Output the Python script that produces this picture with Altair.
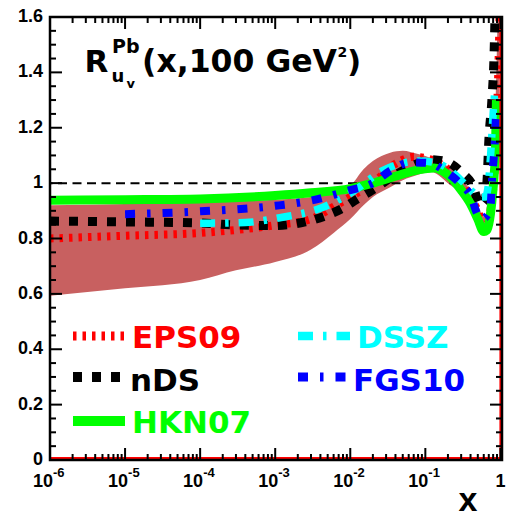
import altair as alt
import pandas as pd

# ---------------- data ----------------
band_x = [1e-6, 1e-5, 1e-4, 3e-4, 1e-3, 3e-3, 6e-3, 1e-2, 1.5e-2, 2e-2, 3.4e-2, 5e-2, 8e-2,
          0.12, 0.2, 0.3, 0.4, 0.5, 0.6, 0.68, 0.76, 0.84, 0.9, 0.94, 0.97, 0.995]
band_hi = [0.92, 0.925, 0.93, 0.935, 0.94, 0.95, 0.965, 0.99, 1.05, 1.08, 1.11, 1.117, 1.105,
           1.09, 1.06, 1.02, 0.97, 0.92, 0.88, 0.9, 1.0, 1.2, 1.5, 1.75, 2.0, 2.3]
band_lo = [0.593, 0.62, 0.65, 0.685, 0.715, 0.76, 0.82, 0.87, 0.92, 0.95, 0.985, 1.01, 1.03,
           1.04, 1.0, 0.96, 0.91, 0.86, 0.81, 0.82, 0.88, 0.95, 1.1, 1.25, 1.4, 1.6]

eps_x = [1e-6, 1e-5, 1e-4, 1e-3, 3e-3, 6e-3, 1e-2, 2e-2, 4e-2, 7e-2, 0.12, 0.2, 0.3, 0.4,
         0.5, 0.6, 0.68, 0.76, 0.84, 0.9, 0.94, 0.97, 0.995]
eps_r = [0.80, 0.81, 0.82, 0.848, 0.87, 0.915, 0.95, 1.0, 1.07, 1.095, 1.085, 1.05, 1.0, 0.95,
         0.9, 0.85, 0.86, 0.93, 1.05, 1.25, 1.42, 1.58, 1.75]

nds_x = [1e-6, 1e-5, 1e-4, 3e-4, 1e-3, 2.5e-3, 5e-3, 8e-3, 1.2e-2, 2e-2, 4e-2, 7e-2, 0.12,
         0.2, 0.3, 0.43, 0.54, 0.62, 0.67, 0.7, 0.77, 0.82, 0.85]
nds_r = [0.863, 0.86, 0.856, 0.849, 0.847, 0.86, 0.885, 0.91, 0.94, 0.976, 1.03, 1.065, 1.085,
         1.075, 1.04, 0.99, 0.92, 0.93, 1.03, 1.15, 1.3, 1.45, 1.62]

hkn_x = [1e-6, 1e-5, 1e-4, 1e-3, 3e-3, 1e-2, 2e-2, 4e-2, 0.08, 0.13, 0.2, 0.3, 0.4, 0.5,
         0.6, 0.66, 0.72, 0.78, 0.82, 0.86, 0.885]
hkn_r = [0.938, 0.94, 0.943, 0.955, 0.965, 0.98, 1.0, 1.025, 1.048, 1.055, 1.03, 0.975, 0.925,
         0.87, 0.825, 0.83, 0.87, 0.95, 1.02, 1.12, 1.30]

dssz_x = [1e-4, 4e-4, 1.2e-3, 4e-3, 1.1e-2, 2.7e-2, 8.5e-2, 0.15, 0.3, 0.4, 0.55, 0.63,
          0.68, 0.74, 0.8, 0.85]
dssz_r = [0.855, 0.858, 0.876, 0.909, 0.97, 1.045, 1.08, 1.07, 1.01, 0.975, 0.95, 0.95,
          0.98, 1.1, 1.25, 1.35]

fgs_x = [1e-5, 1e-4, 1e-3, 3e-3, 1e-2, 2e-2, 3.4e-2, 6.3e-2, 0.11, 0.19, 0.3, 0.4, 0.5,
         0.56, 0.65, 0.74, 0.78, 0.83, 0.88]
fgs_r = [0.888, 0.898, 0.918, 0.937, 0.975, 1.0, 1.045, 1.075, 1.073, 1.04, 0.995, 0.955, 0.885,
         0.87, 0.88, 0.92, 1.03, 1.12, 1.27]

names = ["EPS09", "nDS", "HKN07", "DSSZ", "FGS10"]
colors = ["#ff0000", "#000000", "#00ff00", "#00ffff", "#0000ff"]

x_major = [1e-6, 1e-5, 1e-4, 1e-3, 1e-2, 1e-1]
x_exp = ["-6", "-5", "-4", "-3", "-2", "-1"]
x_last = [1.0]
x_minor = [k * 10.0 ** d for d in range(-6, 0) for k in range(2, 10)]
y_major = [0, 0.2, 0.4, 0.6, 0.8, 1.0, 1.2, 1.4, 1.6]
y_labels = ["0", "0.2", "0.4", "0.6", "0.8", "1", "1.2", "1.4", "1.6"]
y_minor = [round(0.05 * i, 2) for i in range(33) if i % 4 != 0]
unity = [1.0]

# ---------------- chart ----------------
W, H = 452, 443
xs = alt.Scale(type="log", domain=[1e-6, 1.05], nice=False)
ys = alt.Scale(domain=[0, 1.6], nice=False, zero=False)
TF = "Liberation Sans"
LF = "DejaVu Sans"


def X(f):
    return alt.X(f, type="quantitative", scale=xs, axis=None)


def Y(f):
    return alt.Y(f, type="quantitative", scale=ys, axis=None)


def curve(xv, rv, color, width, dash=None):
    df = pd.DataFrame({"x": xv, "r": rv})
    kw = dict(color=color, strokeWidth=width, clip=True, interpolate="monotone")
    if dash:
        kw["strokeDash"] = dash
    return alt.Chart(df).mark_line(**kw).encode(x=X("x"), y=Y("r"))


one = pd.DataFrame({"a": [0]})


def label(text, x, y, size, color="black", font=LF, align="left"):
    return alt.Chart(one).mark_text(
        text=text, fontSize=size, font=font, fontWeight="bold", color=color,
        align=align, baseline="alphabetic"
    ).encode(x=alt.value(x), y=alt.value(y))


layers = []

# EPS09 uncertainty band
band_df = pd.DataFrame({"x": band_x, "lo": band_lo, "hi": band_hi})
layers.append(alt.Chart(band_df).mark_area(color="#c86060", clip=True, interpolate="monotone")
              .encode(x=X("x"), y=Y("hi"), y2="lo"))

# unity dashed line
layers.append(alt.Chart(pd.DataFrame({"v": unity})).mark_rule(
    color="black", strokeWidth=2, strokeDash=[9, 5.5]).encode(y=Y("v")))

styles = {
    "EPS09": dict(width=8, dash=[3.5, 6]),
    "nDS": dict(width=9, dash=[9, 10]),
    "HKN07": dict(width=9, dash=None),
    "DSSZ": dict(width=7.5, dash=[15, 10, 3.5, 10]),
    "FGS10": dict(width=8, dash=[10, 12, 3.5, 12]),
}
series = {
    "EPS09": (eps_x, eps_r),
    "nDS": (nds_x, nds_r),
    "HKN07": (hkn_x, hkn_r),
    "DSSZ": (dssz_x, dssz_r),
    "FGS10": (fgs_x, fgs_r),
}
for name, col in zip(names, colors):
    xv, rv = series[name]
    layers.append(curve(xv, rv, col, styles[name]["width"], styles[name]["dash"]))

# red edge lines (band edges at x=1 and the bottom)
layers.append(alt.Chart(pd.DataFrame({"v": x_last})).mark_rule(
    color="#ff0000", strokeWidth=2, clip=True).encode(x=X("v")))
layers.append(alt.Chart(one).mark_rule(color="#ff0000", strokeWidth=2).encode(
    x=alt.value(0), x2=alt.value(W), y=alt.value(H - 2)))

# ticks (inward, all four sides)
def xticks(vals, length):
    df = pd.DataFrame({"v": vals})
    base = alt.Chart(df).mark_rule(color="black", strokeWidth=2)
    return [base.encode(x=X("v"), y=alt.value(H), y2=alt.value(H - length)),
            base.encode(x=X("v"), y=alt.value(0), y2=alt.value(length))]


def yticks(vals, length):
    df = pd.DataFrame({"v": vals})
    base = alt.Chart(df).mark_rule(color="black", strokeWidth=2)
    return [base.encode(y=Y("v"), x=alt.value(0), x2=alt.value(length)),
            base.encode(y=Y("v"), x=alt.value(W), x2=alt.value(W - length))]


layers += xticks(x_major + x_last, 12) + xticks(x_minor, 6)
layers += yticks(y_major, 12) + yticks(y_minor, 6)

# frame
layers.append(alt.Chart(one).mark_rect(fillOpacity=0, stroke="black", strokeWidth=2.5).encode(
    x=alt.value(0), x2=alt.value(W), y=alt.value(0), y2=alt.value(H)))

# tick labels
xl = pd.DataFrame({"v": x_major, "e": x_exp})
layers.append(alt.Chart(xl).mark_text(text="10", align="right", dx=3, baseline="alphabetic",
                                      font=TF, fontWeight="bold", fontSize=18)
              .encode(x=X("v"), y=alt.value(470)))
layers.append(alt.Chart(xl).mark_text(align="left", dx=3, baseline="alphabetic",
                                      font=TF, fontWeight="bold", fontSize=13)
              .encode(x=X("v"), y=alt.value(460), text="e:N"))
layers.append(alt.Chart(pd.DataFrame({"v": x_last})).mark_text(
    text="1", align="center", baseline="alphabetic", font=TF, fontWeight="bold", fontSize=18)
    .encode(x=X("v"), y=alt.value(470)))
yl = pd.DataFrame({"v": y_major, "t": y_labels})
layers.append(alt.Chart(yl).mark_text(align="right", baseline="middle", font=TF,
                                      fontWeight="bold", fontSize=18)
              .encode(x=alt.value(-7), y=Y("v"), text="t:N"))

# axis title
layers.append(label("x", 418, 494, 34, font=TF, align="center"))

# plot title  R^{Pb}_{u_v}(x,100 GeV^2)
layers.append(label("R", 34.5, 54.7, 31))
layers.append(label("Pb", 62, 36, 19))
layers.append(label("u", 61.5, 65, 18))
layers.append(label("v", 76.5, 71, 13))
layers.append(label("(x,100 GeV", 92, 54.7, 31.5))
layers.append(label("2", 287.5, 39.7, 14))
layers.append(label(")", 297, 54.7, 31))

# legend (manual, ROOT style)
leg_pos = {
    "EPS09": (23, 75, 319, 331),
    "nDS": (23, 73, 360, 373.7),
    "HKN07": (23, 75, 404, 416),
    "DSSZ": (248, 300, 319, 331),
    "FGS10": (248, 296, 360, 373.7),
}
for name, col in zip(names, colors):
    x0, x1, ly, tb = leg_pos[name]
    kw = dict(color=col, strokeWidth=styles[name]["width"] + 1)
    if styles[name]["dash"]:
        kw["strokeDash"] = styles[name]["dash"]
    layers.append(alt.Chart(one).mark_rule(**kw).encode(
        x=alt.value(x0), x2=alt.value(x1), y=alt.value(ly)))
    layers.append(label(name, x1 + 7, tb, 31, color=col))

chart = alt.layer(*layers).properties(
    width=W, height=H,
    autosize=alt.AutoSizeParams(type="none"),
    padding={"left": 50, "top": 17, "right": 5, "bottom": 59},
).configure_view(stroke=None)

chart.save("out.html", embed_options={"renderer": "svg", "actions": False})
